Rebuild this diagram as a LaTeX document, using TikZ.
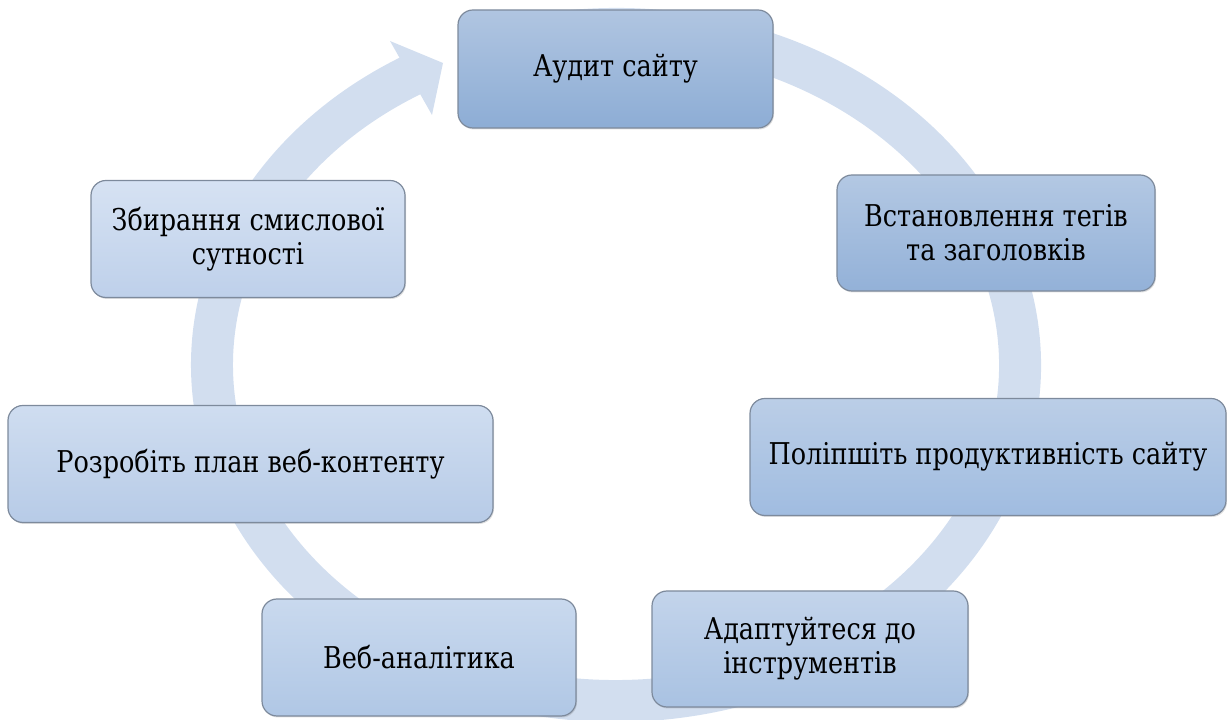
\documentclass[tikz,border=0pt]{standalone}
\usepackage{fontspec}
\newfontfamily\stagefont{DejaVu Serif}[FakeStretch=0.85]
\newcommand\stagesize{\fontsize{30}{34}\selectfont}
\usetikzlibrary{shadows}
\definecolor{band}{RGB}{210,222,239}
\definecolor{edgegray}{RGB}{125,138,156}
\tikzset{
  stagebox/.style={draw=edgegray, line width=1.2pt, rounded corners=15pt,
    align=center, inner sep=4pt, font=\stagefont\stagesize,
    shading=axis, shading angle=0,
    drop shadow={opacity=0.25, shadow xshift=1pt, shadow yshift=-1.5pt}},
}
\begin{document}
\begin{tikzpicture}[x=1pt,y=1pt]
\useasboundingbox (0,0) rectangle (1227,720);
% circular arrow band
\coordinate (c) at (616,355);
\draw[band, line width=42pt] (c) ++(100:404 and 336)
  arc[start angle=100, end angle=-239.5, x radius=404, y radius=336];
\coordinate (hA) at (390,679);
\coordinate (hB) at (432,605);
\coordinate (hT) at (443,657);
\fill[band] (hA) -- (hT) -- (hB) -- cycle;
% stages
\node[stagebox, minimum width=315pt, minimum height=118pt,
  top color={rgb,255:red,176;green,197;blue,225}, bottom color={rgb,255:red,141;green,173;blue,213}]
  (s1) at (615.5,651) {Аудит сайту};
\node[stagebox, minimum width=318pt, minimum height=116pt,
  top color={rgb,255:red,179;green,200;blue,227}, bottom color={rgb,255:red,147;green,177;blue,216}]
  (s2) at (996,487) {Встановлення тегів\\та заголовків};
\node[stagebox, minimum width=476pt, minimum height=117pt,
  top color={rgb,255:red,187;green,206;blue,231}, bottom color={rgb,255:red,160;green,188;blue,224}]
  (s3) at (988,263) {Поліпшіть продуктивність сайту};
\node[stagebox, minimum width=316pt, minimum height=116pt,
  top color={rgb,255:red,195;green,212;blue,235}, bottom color={rgb,255:red,169;green,194;blue,226}]
  (s4) at (810,71) {Адаптуйтеся до\\інструментів};
\node[stagebox, minimum width=314pt, minimum height=117pt,
  top color={rgb,255:red,201;green,217;blue,238}, bottom color={rgb,255:red,176;green,199;blue,229}]
  (s5) at (419,62.5) {Веб-аналітика};
\node[stagebox, minimum width=485pt, minimum height=117pt,
  top color={rgb,255:red,207;green,221;blue,240}, bottom color={rgb,255:red,183;green,203;blue,231}]
  (s6) at (250.5,256) {Розробіть план веб-контенту};
\node[stagebox, minimum width=314pt, minimum height=117pt,
  top color={rgb,255:red,214;green,226;blue,243}, bottom color={rgb,255:red,190;green,208;blue,234}]
  (s7) at (248,481) {Збирання смислової\\сутності};
\end{tikzpicture}
\end{document}
